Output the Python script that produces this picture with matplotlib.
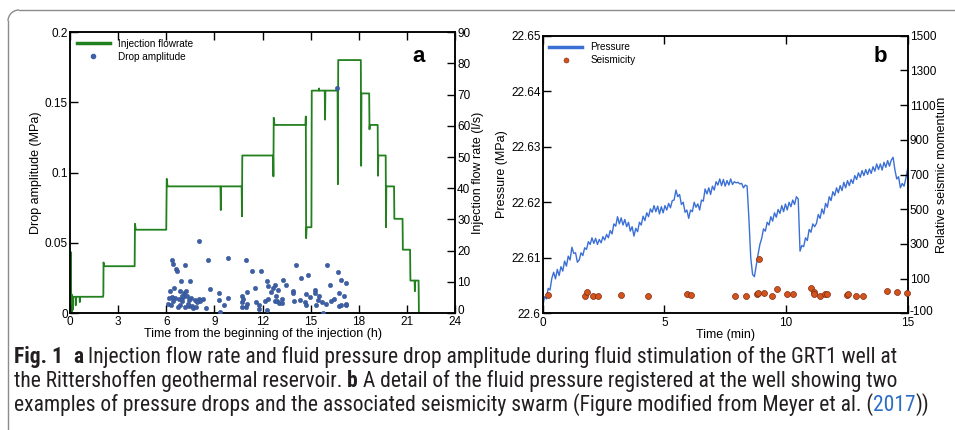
import numpy as np
import matplotlib
matplotlib.use("Agg")
import matplotlib.pyplot as plt
from matplotlib import font_manager
from matplotlib.lines import Line2D
from matplotlib.patches import Arc
from matplotlib.transforms import ScaledTranslation

# ---------------- data: panel a ----------------
flow_time_h = [0, 0.02, 0.03, 0.06, 0.07, 0.1, 0.12, 0.14, 0.17, 0.2, 0.35, 0.36, 0.37, 0.6, 0.61, 0.62,
               2.06, 2.08, 2.09, 2.13, 4.03, 4.05, 4.1, 6.0, 6.03, 6.08, 9.38, 9.4, 9.42, 10.7, 10.72,
               10.74, 12.66, 12.68, 12.7, 12.75, 14.68, 14.7, 14.72, 14.75, 15.05, 15.07, 15.5, 15.52,
               15.54, 15.88, 15.9, 15.92, 16.68, 16.7, 16.72, 18.13, 18.15, 18.17, 18.65, 18.67, 18.69,
               19.18, 19.2, 19.22, 19.68, 19.7, 19.72, 20.2, 20.22, 20.73, 20.75, 21.2, 21.22, 21.48,
               21.5, 21.52, 21.73, 21.75, 22.1]
flow_rate_ls = [0, 0, 19.5, 19.5, 0.5, 6, 0.5, 5, 1, 5.2, 5.2, 2.5, 5.2, 5.2, 3.5, 5.2,
                5.2, 6, 16.2, 15, 15, 28.6, 26.7, 26.7, 43, 40.6, 40.6, 33, 40.6, 40.6, 31,
                50.5, 50.5, 43.8, 62.6, 60.3, 60.3, 63, 24, 27.5, 27.5, 71.3, 71.3, 72,
                71.3, 71.3, 62, 71.3, 71.3, 41.3, 81.1, 81.1, 47.2, 70.4, 70.4, 58.9, 60.3,
                60.3, 44, 50.5, 50.5, 27.5, 40.6, 40.6, 30.2, 30.2, 20.3, 20.3, 10.4, 10.4,
                7, 10.4, 10.4, 0, 0]

drop_time_h = [8.04, 6.34, 6.42, 6.59, 6.67, 7.19, 8.58, 9.87, 10.99, 11.32, 11.93, 6.90, 7.48, 12.26,
               14.09, 14.40, 14.81, 16.0, 16.73, 16.87, 17.18, 16.19, 13.26, 13.44, 12.78, 12.32,
               11.51, 11.03, 10.70, 12.99, 12.68, 13.90, 13.92, 14.71, 15.25, 15.25, 16.77, 17.08,
               6.26, 6.48, 6.85, 7.13, 7.23, 8.72, 9.31, 9.87, 9.31, 8.29, 8.02, 7.79, 7.54, 7.40,
               7.04, 6.79, 6.55, 6.36, 6.19, 6.13, 6.30, 6.88, 6.75, 7.19, 7.44, 7.58, 7.69, 7.86,
               8.10, 8.47, 9.35, 10.73, 10.75, 10.95, 10.81, 11.62, 11.77, 11.77, 12.26, 12.15,
               12.34, 12.82, 12.76, 12.88, 13.05, 13.21, 13.21, 13.96, 14.67, 14.69, 14.96, 15.31,
               15.43, 15.68, 15.79, 15.94, 16.27, 16.75, 16.87, 17.2, 17.18, 16.67,
               6.42, 6.96, 7.36, 7.90, 7.32, 7.00, 11.05, 12.55, 14.35, 15.55, 16.45, 9.6]
drop_amp_mpa = [0.0515, 0.038, 0.035, 0.031, 0.030, 0.034, 0.0375, 0.039, 0.0375, 0.030, 0.030, 0.023,
                0.023, 0.023, 0.034, 0.025, 0.027, 0.034, 0.029, 0.0235, 0.0216, 0.020, 0.0235,
                0.020, 0.0197, 0.019, 0.018, 0.0147, 0.0119, 0.0164, 0.0175, 0.016, 0.014, 0.0138,
                0.0166, 0.014, 0.014, 0.0119, 0.016, 0.018, 0.016, 0.014, 0.0154, 0.0168, 0.014,
                0.011, 0.0095, 0.010, 0.010, 0.0095, 0.0107, 0.009, 0.0114, 0.010, 0.011, 0.0114,
                0.011, 0.0064, 0.006, 0.006, 0.0043, 0.0045, 0.0052, 0.0052, 0.0036, 0.0043,
                0.0083, 0.0033, 0.0005, 0.0076, 0.0043, 0.0043, 0.010, 0.0076, 0.006, 0.0028,
                0.0024, 0.0085, 0.010, 0.0119, 0.0083, 0.0088, 0.0071, 0.0071, 0.010, 0.0088,
                0.0076, 0.0055, 0.0114, 0.0055, 0.0095, 0.0076, 0.0, 0.0064, 0.0083, 0.0047,
                0.0057, 0.0055, 0.0066, 0.160,
                0.0088, 0.0083, 0.0066, 0.0076, 0.0123, 0.0123, 0.0062, 0.0148, 0.0092, 0.0118,
                0.0098, 0.0058]

# ---------------- data: panel b ----------------
pressure_time_min = np.arange(201) * 0.075
# pressure above 22.6 MPa, in kPa
pressure_rise_kpa = [
    1.1, 3.0, 2.6, 4.5, 4.2, 6.3, 7.4, 6.2, 7.9, 6.8,
    8.4, 7.6, 9.4, 8.5, 10.3, 9.6, 11.9, 10.8, 10.9, 9.2,
    9.6, 10.9, 10.4, 11.8, 11.5, 12.9, 12.4, 13.6, 12.6, 13.5,
    12.4, 13.3, 12.7, 13.8, 13.2, 14.2, 13.6, 14.9, 14.3, 16.1,
    15.7, 17.4, 16.1, 17.2, 15.9, 16.9, 15.6, 16.4, 14.8, 15.6,
    13.9, 15.3, 14.7, 16.4, 15.9, 17.5, 16.7, 18.1, 17.4, 18.8,
    18.2, 19.4, 18.3, 19.3, 17.9, 19.2, 18.1, 19.4, 18.6, 19.8,
    19.0, 20.3, 20.4, 22.2, 21.0, 21.4, 19.6, 20.0, 18.2, 18.6,
    17.1, 18.6, 18.3, 20.0, 19.1, 19.7, 18.6, 20.4, 20.2, 22.4,
    21.5, 22.6, 21.4, 22.9, 22.2, 23.7, 23.1, 24.2, 23.0, 24.1,
    22.9, 23.9, 23.1, 24.2, 23.2, 23.7, 23.5, 23.6, 23.3, 23.4,
    22.6, 23.1, 22.9, 17.0, 10.0, 7.0, 6.6, 8.6, 10.6, 12.4,
    13.5, 15.2, 14.8, 16.4, 15.9, 17.4, 16.6, 18.1, 17.3, 18.7,
    18.0, 19.4, 18.3, 19.7, 18.6, 20.0, 19.2, 20.4, 19.6, 21.0,
    20.6, 11.2, 12.2, 12.0, 13.6, 13.1, 15.1, 14.6, 16.1, 15.6,
    16.2, 17.8, 17.1, 18.8, 17.9, 19.8, 19.1, 21.0, 20.3, 21.9,
    21.2, 22.6, 21.7, 23.0, 22.1, 23.6, 22.6, 23.9, 23.0, 24.1,
    23.4, 24.8, 24.1, 25.3, 24.5, 25.7, 24.8, 25.9, 25.0, 26.0,
    25.2, 26.4, 25.6, 26.9, 25.9, 26.9, 25.8, 27.2, 26.3, 27.5,
    26.5, 27.6, 28.1, 25.8, 24.2, 24.6, 22.6, 23.4, 22.9, 24.3, 26.1]

seis_time_min = [0.22, 1.74, 1.81, 2.08, 2.29, 3.22, 4.33, 5.95, 6.08, 7.90, 8.36, 8.79, 8.84, 8.89,
                 9.11, 9.42, 9.64, 10.03, 10.29, 11.01, 11.16, 11.16, 11.40, 11.6, 11.68, 12.49,
                 12.56, 12.88, 13.15, 14.14, 14.58, 14.99]
seis_moment = [6, 0, 21, 0, 0, 6, 2, 9.5, 4, 0, 2, 9.5, 15, 215,
               19, 0, 42, 9.5, 13, 46, 23, 11, 2, 9.5, 13, 6,
               13, 2, 2, 29, 21, 15]

a_xticks = [0, 3, 6, 9, 12, 15, 18, 21, 24]
a_left_ticks = [0, 0.05, 0.1, 0.15, 0.2]
a_left_labels = ["0", "0.05", "0.1", "0.15", "0.2"]
a_right_ticks = [0, 10, 20, 30, 40, 50, 60, 70, 80, 90]
b_xticks = [0, 5, 10, 15]
b_left_ticks = [22.6, 22.61, 22.62, 22.63, 22.64, 22.65]
b_left_labels = ["22.6", "22.61", "22.62", "22.63", "22.64", "22.65"]
b_right_ticks = [-100, 100, 300, 500, 700, 900, 1100, 1300, 1500]

# ---------------- fonts ----------------
avail = {f.name for f in font_manager.fontManager.ttflist}
chart_font = "Liberation Sans" if "Liberation Sans" in avail else "DejaVu Sans"
cap_font = None
for cand in ["Liberation Sans Narrow", "Roboto Condensed", "Open Sans Condensed", "DejaVu Sans"]:
    if cand in avail:
        cap_font = cand
        break
cap_stretch = "condensed" if cap_font == "DejaVu Sans" else "normal"
plt.rcParams["font.family"] = [chart_font, "DejaVu Sans"]

W, H = 955, 430
fig = plt.figure(figsize=(W / 100, H / 100), dpi=100)

GREEN = "#22801f"
BLUE_DOT = "#3d5fa6"
BLUE_LINE = "#3a6fd6"
ORANGE = "#d4531c"

TICK_FS = 8.5
LAB_FS = 9


def style_ax(ax):
    for s in ax.spines.values():
        s.set_linewidth(1.1)
        s.set_color("black")
    ax.tick_params(direction="in", length=5.5, width=1.0, labelsize=TICK_FS, pad=1.5)
    ax.tick_params(axis="x", pad=2.5)


def nudge_first_label(ax, dy_px):
    lab = ax.get_yticklabels()[0]
    lab.set_transform(lab.get_transform() + ScaledTranslation(0, dy_px / 100, fig.dpi_scale_trans))


# ---------------- panel a ----------------
axa = fig.add_axes([70 / W, 1 - 313 / H, 385 / W, 280.7 / H])
axa2 = axa.twinx()
style_ax(axa)
style_ax(axa2)
axa.set_xlim(0, 24)
axa.set_ylim(0, 0.2)
axa2.set_ylim(0, 90)
axa.set_xticks(a_xticks)
axa.set_xticklabels([str(v) for v in a_xticks])
axa.set_yticks(a_left_ticks)
axa.set_yticklabels(a_left_labels)
axa2.set_yticks(a_right_ticks)
axa2.set_yticklabels([str(v) for v in a_right_ticks])
axa.tick_params(axis="x", top=True, labeltop=False)
axa.tick_params(axis="y", right=False)
axa2.tick_params(axis="y", left=False)
nudge_first_label(axa2, 3)

axa2.plot(flow_time_h, flow_rate_ls, color=GREEN, lw=1.3, zorder=2)
axa.plot(drop_time_h, drop_amp_mpa, "o", ms=3.2, color=BLUE_DOT, mec="#2f4f8f", mew=0.3, zorder=3)
axa.set_zorder(axa2.get_zorder() + 1)
axa.patch.set_visible(False)

axa.set_xlabel("Time from the beginning of the injection (h)", fontsize=LAB_FS, labelpad=0)
axa.set_ylabel("Drop amplitude (MPa)", fontsize=LAB_FS, labelpad=2)
axa2.set_ylabel("Injection flow rate (l/s)", fontsize=LAB_FS, labelpad=1)
axa.text(0.905, 0.915, "a", transform=axa.transAxes, fontsize=16, fontweight="bold",
         ha="center", va="center")

h_a = [Line2D([], [], color=GREEN, lw=2.5),
       Line2D([], [], ls="none", marker="o", ms=3.0, color=BLUE_DOT)]
axa.legend(h_a, ["Injection flowrate", "Drop amplitude"], loc="upper left", frameon=False,
           fontsize=7.2, handlelength=3.3, handletextpad=0.8, borderaxespad=0.25,
           labelspacing=0.3, bbox_to_anchor=(0.0, 1.0))

# ---------------- panel b ----------------
axb = fig.add_axes([542.7 / W, 1 - 313.3 / H, 365 / W, 277.6 / H])
axb2 = axb.twinx()
style_ax(axb)
style_ax(axb2)
axb.set_xlim(0, 15)
axb.set_ylim(22.6, 22.65)
axb2.set_ylim(-100, 1500)
axb.set_xticks(b_xticks)
axb.set_yticks(b_left_ticks)
axb.set_yticklabels(b_left_labels)
axb2.set_yticks(b_right_ticks)
axb2.set_yticklabels([str(v) for v in b_right_ticks])
axb.tick_params(axis="x", top=True, labeltop=False)
axb.tick_params(axis="y", right=False)
axb2.tick_params(axis="y", left=False)
nudge_first_label(axb2, 3)

pressure_mpa = 22.6 + np.array(pressure_rise_kpa) / 1000.0
axb.plot(pressure_time_min, pressure_mpa, color=BLUE_LINE, lw=1.0, zorder=2)
axb2.plot(seis_time_min, seis_moment, "o", ms=4.3, color=ORANGE, mec="#7a2c10", mew=0.5,
          zorder=3, clip_on=False)

axb.set_xlabel("Time (min)", fontsize=LAB_FS, labelpad=0)
axb.set_ylabel("Pressure (MPa)", fontsize=LAB_FS, labelpad=2)
axb2.set_ylabel("Relative seismic momentum", fontsize=LAB_FS, labelpad=0)
axb.text(0.924, 0.925, "b", transform=axb.transAxes, fontsize=16, fontweight="bold",
         ha="center", va="center")

h_b = [Line2D([], [], color=BLUE_LINE, lw=2.5),
       Line2D([], [], ls="none", marker="o", ms=3.6, color=ORANGE, mec="#7a2c10", mew=0.4)]
axb2.legend(h_b, ["Pressure", "Seismicity"], loc="upper left", frameon=False,
            fontsize=7.2, handlelength=3.3, handletextpad=0.8, borderaxespad=0.25,
            labelspacing=0.3, bbox_to_anchor=(0.0, 1.0))

# ---------------- frame ----------------
FR = "#8c8c8c"
r = 11
fig.add_artist(Line2D([8 / W, 8 / W], [0, 1 - (10 + r) / H], color=FR, lw=1.0,
                      transform=fig.transFigure))
fig.add_artist(Line2D([(8 + r) / W, 1], [1 - 10 / H, 1 - 10 / H], color=FR, lw=1.0,
                      transform=fig.transFigure))
fig.add_artist(Arc((8 + r, H - 10 - r), 2 * r, 2 * r, theta1=90, theta2=180, color=FR, lw=1.0,
                   transform=None))

# ---------------- caption ----------------
renderer = fig.canvas.get_renderer()
CAP_COLOR = "#231f20"
LINK = "#2b6cc4"


def run_width(s, size, weight):
    t1 = fig.text(0, 0, s + "|", fontsize=size, fontweight=weight, family=cap_font,
                  fontstretch=cap_stretch)
    t2 = fig.text(0, 0, "|", fontsize=size, fontweight=weight, family=cap_font,
                  fontstretch=cap_stretch)
    w = t1.get_window_extent(renderer).width - t2.get_window_extent(renderer).width
    t1.remove()
    t2.remove()
    return w


lines = [
    ([("Fig. 1", "bold", CAP_COLOR), ("  ", "normal", CAP_COLOR), ("a", "bold", CAP_COLOR),
      (" Injection flow rate and fluid pressure drop amplitude during fluid stimulation of the GRT1 well at",
       "normal", CAP_COLOR)], 363, 922),
    ([("the Rittershoffen geothermal reservoir. ", "normal", CAP_COLOR), ("b", "bold", CAP_COLOR),
      (" A detail of the fluid pressure registered at the well showing two", "normal", CAP_COLOR)],
     387, 920),
    ([("examples of pressure drops and the associated seismicity swarm (Figure modified from Meyer et al. (",
       "normal", CAP_COLOR), ("2017", "normal", LINK), ("))", "normal", CAP_COLOR)], 411, 930),
]

base = 12.0
sizes = []
for runs, yb, xend in lines:
    tot = sum(run_width(s, base, w) for s, w, c in runs)
    sizes.append(base * (xend - 14) / tot)
cap_size = float(min(sizes))

for runs, yb, xend in lines:
    x = 14.0
    for s, w, c in runs:
        fig.text(x / W, 1 - yb / H, s, fontsize=cap_size, fontweight=w, color=c,
                 family=cap_font, fontstretch=cap_stretch, va="baseline", ha="left")
        x += run_width(s, cap_size, w)

fig.savefig("out.png", dpi=100)
